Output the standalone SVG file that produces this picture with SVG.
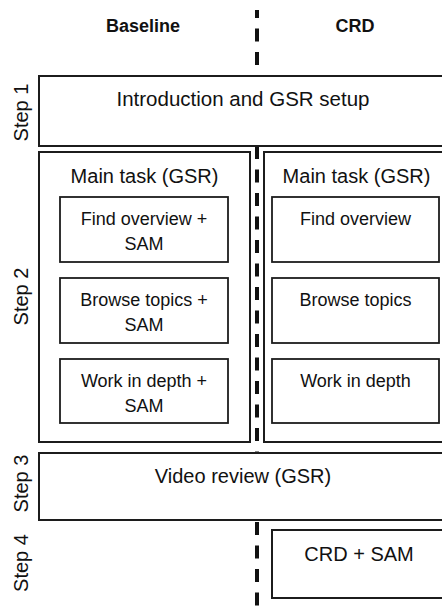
<svg xmlns="http://www.w3.org/2000/svg" width="442" height="608" viewBox="0 0 442 608">
  <style>
    .frame { fill: #ffffff; stroke: #1c1c1c; stroke-width: 2; }
    .task { fill: #ffffff; stroke: #1c1c1c; stroke-width: 1.8; }
    .divider { fill: none; stroke: #111111; stroke-width: 4; stroke-dasharray: 13 10.5; stroke-dashoffset: 5; }
    text { font-family: "Liberation Sans", Arial, sans-serif; fill: #111111; }
    .head { font-size: 18px; font-weight: bold; text-anchor: middle; }
    .big { font-size: 20.5px; text-anchor: middle; }
    .mid { font-size: 20px; text-anchor: middle; }
    .small { font-size: 18px; text-anchor: middle; }
    .step { font-size: 20px; text-anchor: middle; }
  </style>

  <rect width="442" height="608" fill="#ffffff"/>

  <!-- condition divider, runs behind the boxes -->
  <g id="connectors">
    <line class="divider" x1="257" y1="10" x2="257" y2="608"/>
  </g>

  <!-- column headers -->
  <g id="headers">
    <text class="head" x="143" y="32">Baseline</text>
    <text class="head" x="355" y="32">CRD</text>
  </g>

  <!-- step labels -->
  <g id="step-labels">
    <text class="step" transform="translate(28,112.5) rotate(-90)">Step 1</text>
    <text class="step" transform="translate(28,296.5) rotate(-90)">Step 2</text>
    <text class="step" transform="translate(28,483.5) rotate(-90)">Step 3</text>
    <text class="step" transform="translate(28,563) rotate(-90)">Step 4</text>
  </g>

  <g id="step1">
    <rect class="frame" x="39" y="76" width="411" height="70"/>
    <text class="big" x="243" y="106">Introduction and GSR setup</text>
  </g>

  <g id="main-baseline">
    <rect class="frame" x="39" y="152" width="211" height="290"/>
    <text class="mid" x="144.5" y="183">Main task (GSR)</text>
  </g>
  <g id="main-crd">
    <rect class="frame" x="264" y="152" width="186" height="290"/>
    <text class="mid" x="356.5" y="183">Main task (GSR)</text>
  </g>

  <g id="overview-baseline">
    <rect class="task" x="60" y="197" width="168" height="65"/>
    <text class="small" x="144" y="225">Find overview +</text>
    <text class="small" x="144" y="250">SAM</text>
  </g>
  <g id="browse-baseline">
    <rect class="task" x="60" y="278" width="168" height="65"/>
    <text class="small" x="144" y="306">Browse topics +</text>
    <text class="small" x="144" y="331">SAM</text>
  </g>
  <g id="depth-baseline">
    <rect class="task" x="60" y="359" width="168" height="64"/>
    <text class="small" x="144" y="387">Work in depth +</text>
    <text class="small" x="144" y="412">SAM</text>
  </g>

  <g id="overview-crd">
    <rect class="task" x="272" y="197" width="167" height="65"/>
    <text class="small" x="355.5" y="225">Find overview</text>
  </g>
  <g id="browse-crd">
    <rect class="task" x="272" y="278" width="167" height="65"/>
    <text class="small" x="355.5" y="306">Browse topics</text>
  </g>
  <g id="depth-crd">
    <rect class="task" x="272" y="359" width="167" height="64"/>
    <text class="small" x="355.5" y="387">Work in depth</text>
  </g>

  <g id="step3">
    <rect class="frame" x="39" y="453" width="411" height="67"/>
    <text class="mid" x="243" y="483">Video review (GSR)</text>
  </g>

  <g id="step4">
    <rect class="frame" x="272" y="530" width="178" height="68"/>
    <text class="mid" x="359" y="561">CRD + SAM</text>
  </g>
</svg>
